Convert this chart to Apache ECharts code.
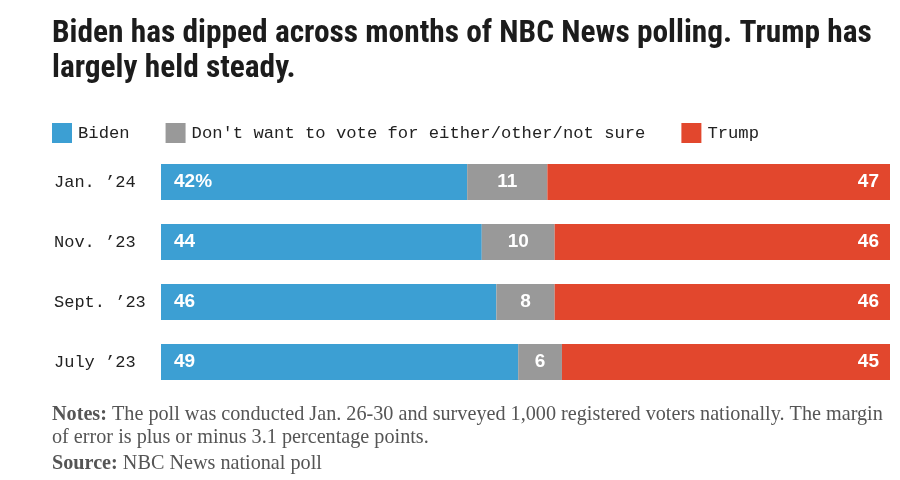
<!DOCTYPE html>
<html>
<head>
<meta charset="utf-8">
<script src="https://cdn.jsdelivr.net/npm/echarts@6/dist/echarts.min.js"></script>
<style>
html,body{margin:0;padding:0;background:#fff;}
#chart{width:900px;height:480px;}
</style>
</head>
<body>
<div id="chart"></div>
<script>
const categories = ["Jan. \u201924", "Nov. \u201923", "Sept. \u201923", "July \u201923"];
const biden = [42, 44, 46, 49];
const neither = [11, 10, 8, 6];
const trump = [47, 46, 46, 45];
const seriesNames = ["Biden", "Don't want to vote for either/other/not sure", "Trump"];
const colors = ["#3C9FD3", "#999999", "#E2472D"];

const chart = echarts.init(document.getElementById('chart'), null, {renderer: 'canvas'});
const labelFont = {color: '#fff', fontFamily: 'Liberation Sans, Arial, sans-serif', fontWeight: 'bold', fontSize: 19};
const mono = 'Liberation Mono, DejaVu Sans Mono, monospace';
const serif = 'Liberation Serif, Times New Roman, serif';

chart.setOption({
  animation: false,
  color: colors,
  title: [{
    text: 'Biden has dipped across months of NBC News polling. Trump has\nlargely held steady.',
    left: 52, top: 17, padding: 0,
    textStyle: {fontFamily: 'Roboto Condensed, Liberation Sans Narrow, DejaVu Sans Condensed, Roboto, sans-serif', fontWeight: 'bold', fontSize: 31.4, lineHeight: 35, color: '#1c1c1c'}
  }, {
    text: '{b|Notes:} The poll was conducted Jan. 26-30 and surveyed 1,000 registered voters nationally. The margin\nof error is plus or minus 3.1 percentage points.',
    left: 52, top: 403, padding: 0,
    textStyle: {
      fontFamily: serif, fontSize: 20.2, lineHeight: 23, color: '#555555', fontWeight: 'normal',
      rich: {b: {fontFamily: serif, fontSize: 20.2, fontWeight: 'bold', color: '#555555', lineHeight: 23}}
    }
  }, {
    text: '{b|Source:} NBC News national poll',
    left: 52, top: 452, padding: 0,
    textStyle: {
      fontFamily: serif, fontSize: 20.2, lineHeight: 23, color: '#555555', fontWeight: 'normal',
      rich: {b: {fontFamily: serif, fontSize: 20.2, fontWeight: 'bold', color: '#555555', lineHeight: 23}}
    }
  }],
  legend: {
    left: 52, top: 123, padding: 0,
    itemWidth: 20, itemHeight: 20, itemGap: 36,
    icon: 'rect',
    textStyle: {fontFamily: mono, fontSize: 17.2, color: '#222', padding: [0, 0, 0, 1]},
    data: seriesNames
  },
  grid: {left: 161, right: 10, top: 152, height: 240, containLabel: false},
  xAxis: {type: 'value', min: 0, max: 100, show: false},
  yAxis: {
    type: 'category', data: categories, inverse: true,
    axisLine: {show: false}, axisTick: {show: false},
    axisLabel: {align: 'left', margin: 107, fontFamily: mono, fontSize: 17, color: '#222'}
  },
  series: [
    {name: seriesNames[0], type: 'bar', stack: 'total', barWidth: 36, data: biden,
     label: {show: true, position: 'insideLeft', distance: 13, ...labelFont,
       formatter: p => p.dataIndex === 0 ? p.value + '%' : p.value}},
    {name: seriesNames[1], type: 'bar', stack: 'total', barWidth: 36, data: neither,
     label: {show: true, position: 'inside', ...labelFont}},
    {name: seriesNames[2], type: 'bar', stack: 'total', barWidth: 36, data: trump,
     label: {show: true, position: 'insideRight', distance: 11, ...labelFont}}
  ]
});
</script>
</body>
</html>
